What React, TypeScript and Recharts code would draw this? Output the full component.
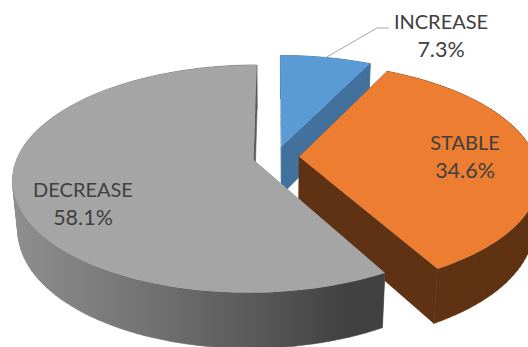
import { Pie, PieChart } from "recharts";

const CATEGORIES = ["INCREASE", "STABLE", "DECREASE"];
const SHARES = [7.3, 34.6, 58.1];
const TOP_COLORS = ["#5b9bd5", "#ed7d31", "#a5a5a5"];
const SIDE_COLORS = ["#41719c", "#5f3213", "url(#rimShade)"];

// centre of each two-line label, by category
const LABEL_CENTERS: Record<string, [number, number]> = {
  INCREASE: [441, 21],
  STABLE: [465, 142],
  DECREASE: [83, 189],
};
const LEADER_ELBOW: [number, number][] = [
  [377, 28],
  [389, 28],
];

const tableData = CATEGORIES.map((name, i) => ({
  name,
  value: SHARES[i],
  fill: TOP_COLORS[i],
  side: SIDE_COLORS[i],
}));

// perspective view of the disc
const CX = 276;
const CY = 157;
const RX = 236;
const RY = 109.7;
const TILT = 0.167;
const DEPTH = 50;
const DEPTH_SHRINK = 0.02;
const EXPLODE = 0.098;

const rad = (deg: number) => (deg * Math.PI) / 180;

// recharts angle -> point on the disc, pushed out along the slice's mid angle
function project(angle: number, radius: number, midAngle: number, z: number) {
  const u = EXPLODE * Math.cos(rad(midAngle)) + radius * Math.cos(rad(angle));
  const v = -EXPLODE * Math.sin(rad(midAngle)) - radius * Math.sin(rad(angle));
  const w = 1 - TILT * v + DEPTH_SHRINK * z;
  return [CX + (RX * u) / w, CY + (RY * v + DEPTH * z) / w];
}

const toPath = (pts: number[][]) =>
  "M" + pts.map((p) => `${p[0].toFixed(1)},${p[1].toFixed(1)}`).join("L") + "Z";

// rim as one quad per step, all wound the same way so overlaps still fill
function rimPath(top: number[][], bottom: number[][]) {
  let d = "";
  for (let i = 0; i < top.length - 1; i++) {
    const quad = [top[i], top[i + 1], bottom[i + 1], bottom[i]];
    let area = 0;
    quad.forEach((p, j) => {
      const q = quad[(j + 1) % 4];
      area += p[0] * q[1] - q[0] * p[1];
    });
    d += toPath(area < 0 ? quad.reverse() : quad);
  }
  return d;
}

function Slice3D(props: any) {
  const { startAngle, endAngle, midAngle, fill, payload } = props;
  const side = payload.side;
  const arc = (z: number) => {
    const pts = [];
    const steps = Math.ceil(Math.abs(endAngle - startAngle) / 2);
    for (let i = 0; i <= steps; i++) {
      const a = startAngle + ((endAngle - startAngle) * i) / steps;
      pts.push(project(a, 1, midAngle, z));
    }
    return pts;
  };
  const topArc = arc(0);
  const bottomArc = arc(1);
  const apexTop = project(0, 0, midAngle, 0);
  const apexBottom = project(0, 0, midAngle, 1);
  const last = topArc.length - 1;

  return (
    <g>
      <path d={toPath([apexTop, topArc[0], bottomArc[0], apexBottom])} fill={payload.name === "DECREASE" ? "#8c8c8c" : side} />
      <path d={toPath([apexTop, topArc[last], bottomArc[last], apexBottom])} fill={side} stroke={side} strokeWidth={0.6} />
      <path d={rimPath(topArc, bottomArc)} fill={side} stroke={side} strokeWidth={0.6} />
      <path d={toPath([apexTop, ...topArc])} fill={fill} />
    </g>
  );
}

function SliceLabel(props: any) {
  const { name, value, midAngle } = props;
  const [x, y] = LABEL_CENTERS[name];
  const start = project(midAngle, 1, midAngle, 0);
  return (
    <g fontFamily="Lato" fill="#404040" textAnchor="middle" dominantBaseline="central">
      {name === "INCREASE" && (
        <polyline
          points={[start, ...LEADER_ELBOW].map((p) => p.join(",")).join(" ")}
          fill="none"
          stroke="#a6a6a6"
          strokeWidth={1}
        />
      )}
      <text x={x} y={y} fontSize={20}>
        {name}
      </text>
      <text x={x} y={y + 28} fontSize={21.5}>
        {value.toFixed(1)}%
      </text>
    </g>
  );
}

export default function App() {
  return (
    <div style={{ position: "absolute", left: 0, top: 0, width: 528, height: 347, background: "#fff" }}>
      <PieChart width={528} height={347} margin={{ top: 0, right: 0, bottom: 0, left: 0 }}>
        <defs>
          <linearGradient id="rimShade" gradientUnits="userSpaceOnUse" x1="10" y1="0" x2="383" y2="0">
            <stop offset="0%" stopColor="#8f8f8f" />
            <stop offset="35%" stopColor="#747474" />
            <stop offset="65%" stopColor="#5a5a5a" />
            <stop offset="90%" stopColor="#414141" />
            <stop offset="100%" stopColor="#414141" />
          </linearGradient>
        </defs>
        <Pie
          data={tableData}
          dataKey="value"
          nameKey="name"
          cx={CX}
          cy={CY}
          outerRadius={RX}
          startAngle={90}
          endAngle={-270}
          stroke="none"
          shape={Slice3D}
          label={SliceLabel}
          labelLine={false}
          isAnimationActive={false}
        />
      </PieChart>
    </div>
  );
}
